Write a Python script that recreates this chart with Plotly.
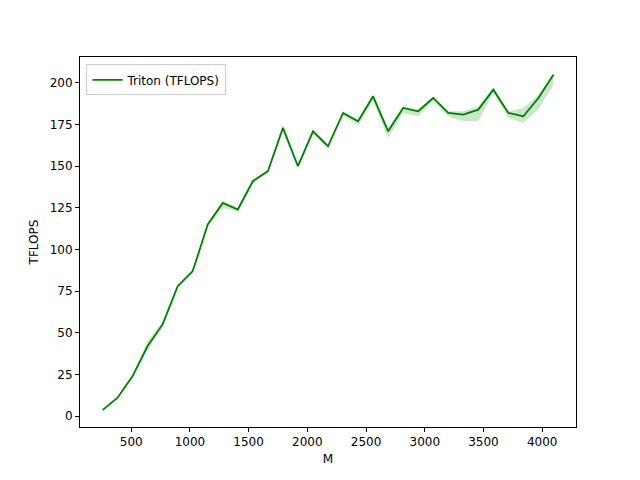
import plotly.graph_objects as go

# ── Data ─────────────────────────────────────────────────────────────────────
M_VALUES = [256, 384, 512, 640, 768, 896, 1024, 1152, 1280, 1408, 1536, 1664,
            1792, 1920, 2048, 2176, 2304, 2432, 2560, 2688, 2816, 2944, 3072,
            3200, 3328, 3456, 3584, 3712, 3840, 3968, 4096]
TFLOPS = [3.5, 11, 24, 42, 55, 78, 87, 115, 128, 124, 141, 147,
          173, 150, 171, 162, 182, 177, 192, 171, 185, 183, 191,
          182, 181, 184, 196, 182, 180, 191, 205]
TFLOPS_LO = [3.3, 10.5, 23.5, 40, 54, 77, 86, 114, 125, 123, 140, 146,
             171, 149, 169, 161, 180, 175, 189, 167, 182, 180, 189,
             180, 177, 177, 194, 179, 176, 184, 199]
TFLOPS_HI = [3.8, 11.5, 25, 45, 57, 79, 88, 116, 129, 125, 142, 148,
             175, 151, 172, 163, 183, 178, 193, 173, 186, 184, 192,
             183, 183, 186, 197, 183, 185, 193, 206]

X_TICKS = [500, 1000, 1500, 2000, 2500, 3000, 3500, 4000]
Y_TICKS = [0, 25, 50, 75, 100, 125, 150, 175, 200]

GREEN = "#008000"
FONT = "DejaVu Sans, sans-serif"

fig = go.Figure()
fig.add_trace(go.Scatter(x=M_VALUES, y=TFLOPS_HI, mode="lines",
                         line=dict(width=0), showlegend=False, hoverinfo="skip"))
fig.add_trace(go.Scatter(x=M_VALUES, y=TFLOPS_LO, mode="lines", fill="tonexty",
                         fillcolor="rgba(0,128,0,0.2)", line=dict(width=0),
                         showlegend=False, hoverinfo="skip"))
fig.add_trace(go.Scatter(x=M_VALUES, y=TFLOPS, mode="lines", name="Triton (TFLOPS)",
                         line=dict(color=GREEN, width=1.8)))

axis_common = dict(showline=True, linecolor="black", linewidth=1, mirror=True,
                   ticks="outside", ticklen=4, tickcolor="black", showgrid=False,
                   zeroline=False, tickfont=dict(size=12, color="black"))

fig.update_layout(
    width=640, height=480,
    font=dict(family=FONT, size=12, color="black"),
    plot_bgcolor="white", paper_bgcolor="white",
    margin=dict(l=72, r=72, t=49, b=61),
    xaxis=dict(**axis_common, range=[64, 4288], tickvals=X_TICKS,
               title=dict(text="M", standoff=6, font=dict(size=12))),
    yaxis=dict(**axis_common, range=[-6.6, 215.6], tickvals=Y_TICKS,
               title=dict(text="TFLOPS", standoff=8, font=dict(size=12))),
    legend=dict(x=0.013, y=0.98, xanchor="left", yanchor="top",
                bordercolor="#cccccc", borderwidth=1, bgcolor="white",
                font=dict(size=12)),
)

fig.write_html("out.html")
